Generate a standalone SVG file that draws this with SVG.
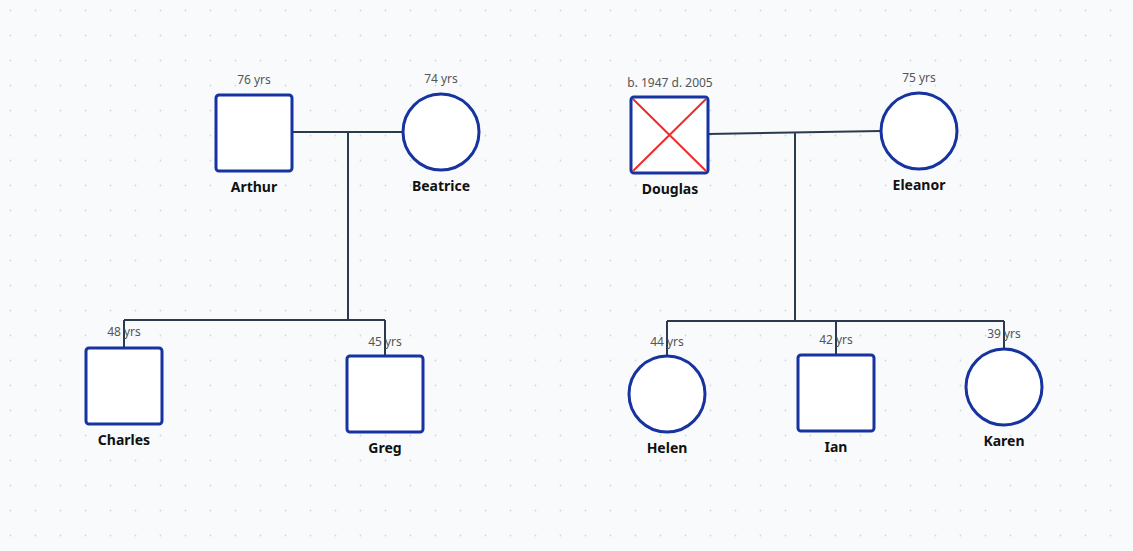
<svg xmlns="http://www.w3.org/2000/svg" width="1133" height="551" viewBox="0 0 1133 551">
<defs>
<pattern id="dots" width="25" height="25" patternUnits="userSpaceOnUse" x="-2" y="-2"><circle cx="12.5" cy="12.5" r="0.9" fill="#d3d7de"/></pattern>
<style>
.n{fill:#fff;stroke:#1633a0;stroke-width:3}
.l{fill:none;stroke:#2b3a4c;stroke-width:2}
.nm{font-family:"Noto Sans","Open Sans",sans-serif;font-size:14px;font-weight:bold;fill:#111;text-anchor:middle}
.ag{font-family:"Noto Sans","Open Sans",sans-serif;font-size:12px;fill:#555;text-anchor:middle}
</style>
</defs>
<rect width="1133" height="551" fill="#f8fafc"/>
<rect width="1133" height="551" fill="url(#dots)"/>
<g id="connectors">
<path class="l" d="M292 132H403M348 132V320M124 320H385M124 320V348M385 320V356"/>
<path class="l" d="M708 134L881 131M795 133V321M667 321H1004M667 321V356M836 321V355M1004 321V349"/>
</g>
<g id="arthur"><rect class="n" x="216" y="95" width="76" height="76" rx="3"/><text class="ag" x="254" y="84">76 yrs</text><text class="nm" x="254" y="192">Arthur</text></g>
<g id="beatrice"><circle class="n" cx="441" cy="132" r="38"/><text class="ag" x="441" y="83">74 yrs</text><text class="nm" x="441" y="191">Beatrice</text></g>
<g id="douglas"><rect class="n" x="631" y="97" width="77" height="76" rx="3"/><path d="M633 99L706 171M706 99L633 171" stroke="#f02b2b" stroke-width="2"/><text class="ag" x="670" y="87">b. 1947 d. 2005</text><text class="nm" x="670" y="194">Douglas</text></g>
<g id="eleanor"><circle class="n" cx="919" cy="131" r="38"/><text class="ag" x="919" y="82">75 yrs</text><text class="nm" x="919" y="190">Eleanor</text></g>
<g id="charles"><rect class="n" x="86" y="348" width="76" height="76" rx="3"/><text class="ag" x="124" y="336">48 yrs</text><text class="nm" x="124" y="445">Charles</text></g>
<g id="greg"><rect class="n" x="347" y="356" width="76" height="76" rx="3"/><text class="ag" x="385" y="346">45 yrs</text><text class="nm" x="385" y="453">Greg</text></g>
<g id="helen"><circle class="n" cx="667" cy="394" r="38"/><text class="ag" x="667" y="346">44 yrs</text><text class="nm" x="667" y="453">Helen</text></g>
<g id="ian"><rect class="n" x="798" y="355" width="76" height="76" rx="3"/><text class="ag" x="836" y="344">42 yrs</text><text class="nm" x="836" y="452">Ian</text></g>
<g id="karen"><circle class="n" cx="1004" cy="387" r="38"/><text class="ag" x="1004" y="338">39 yrs</text><text class="nm" x="1004" y="446">Karen</text></g>
</svg>
